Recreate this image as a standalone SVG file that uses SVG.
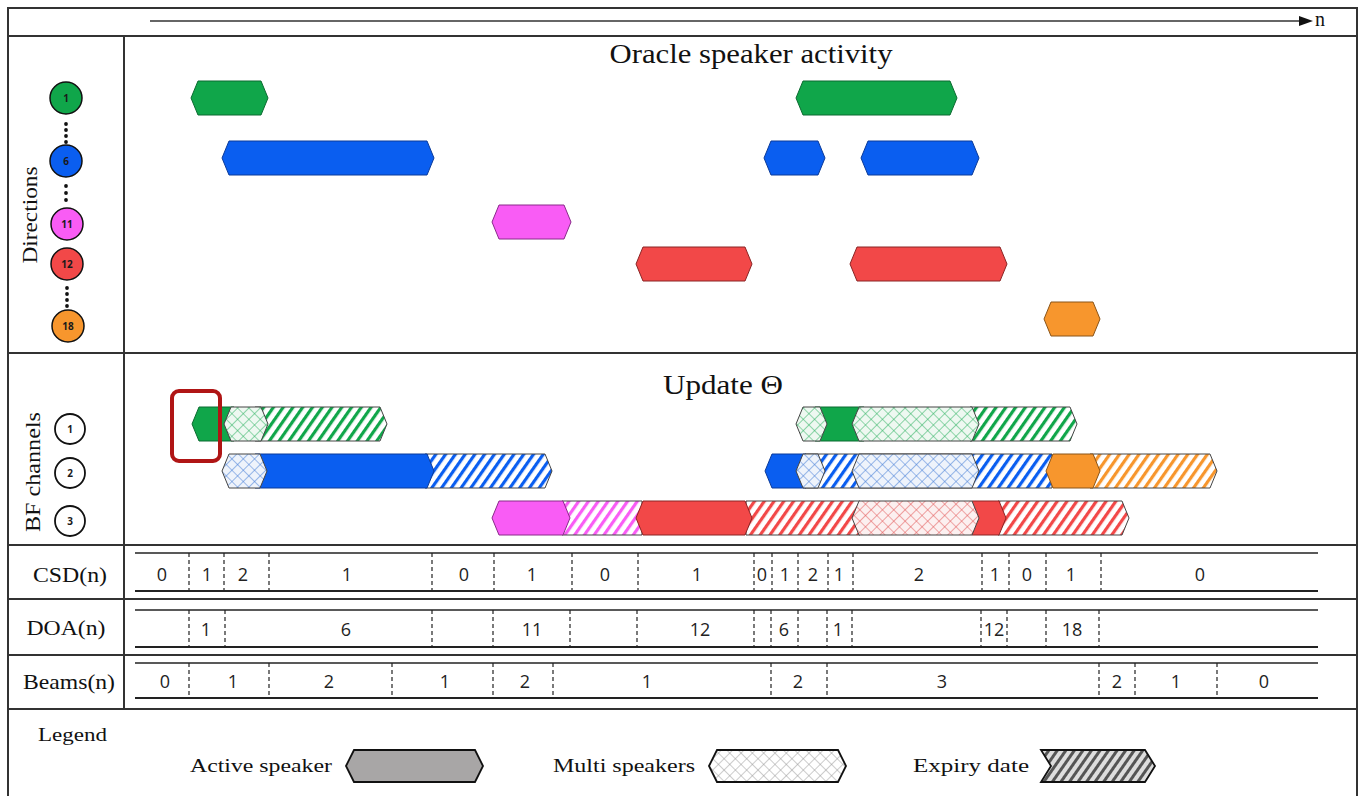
<svg xmlns="http://www.w3.org/2000/svg" width="1362" height="796" viewBox="0 0 1362 796">
<style>
.frame{fill:none;stroke:#333;stroke-width:2}
.sep{stroke:#333;stroke-width:2}
.serif{font-family:"Liberation Serif","DejaVu Serif",serif;fill:#111}
.num{font-family:"Open Sans","Liberation Sans",sans-serif;font-size:18px;fill:#222;text-anchor:middle}
.lbl{font-family:"Liberation Serif","DejaVu Serif",serif;font-size:21px;fill:#111;text-anchor:middle}
.tl-top{stroke:#222;stroke-width:1.3}
.tl-bot{stroke:#222;stroke-width:2}
.dash{stroke:#222;stroke-width:1.2;stroke-dasharray:4 3}
.ctext{font-family:"Open Sans","Liberation Sans",sans-serif;font-size:10px;font-weight:bold;fill:#1a1a1a;text-anchor:middle}
.dot{fill:#111}
.g{fill:#10a64a;stroke:#0b6b30;stroke-width:1}
.b{fill:#0a5ef0;stroke:#0a3a9a;stroke-width:1}
.m{fill:#f95cf5;stroke:#8a2a8a;stroke-width:1}
.r{fill:#f24848;stroke:#8a2424;stroke-width:1}
.o{fill:#f7962d;stroke:#8a5418;stroke-width:1}
.edge{stroke:#444;stroke-width:1}
</style>
<defs>
<pattern id="hg" width="8" height="8" patternUnits="userSpaceOnUse" patternTransform="rotate(35)"><rect width="8" height="8" fill="#fff"/><rect width="3.2" height="8" fill="#10a64a"/></pattern>
<pattern id="hb" width="8" height="8" patternUnits="userSpaceOnUse" patternTransform="rotate(35)"><rect width="8" height="8" fill="#fff"/><rect width="3.2" height="8" fill="#0a5ef0"/></pattern>
<pattern id="hm" width="8" height="8" patternUnits="userSpaceOnUse" patternTransform="rotate(35)"><rect width="8" height="8" fill="#fff"/><rect width="3.2" height="8" fill="#f95cf5"/></pattern>
<pattern id="hr" width="8" height="8" patternUnits="userSpaceOnUse" patternTransform="rotate(35)"><rect width="8" height="8" fill="#fff"/><rect width="3.2" height="8" fill="#f24848"/></pattern>
<pattern id="ho" width="8" height="8" patternUnits="userSpaceOnUse" patternTransform="rotate(35)"><rect width="8" height="8" fill="#fff"/><rect width="3.2" height="8" fill="#f7962d"/></pattern>
<pattern id="hk" width="7" height="7" patternUnits="userSpaceOnUse" patternTransform="rotate(35)"><rect width="7" height="7" fill="#ddd"/><rect width="3" height="7" fill="#555"/></pattern>
<pattern id="cg" width="8" height="8" patternUnits="userSpaceOnUse" patternTransform="rotate(45)"><rect width="8" height="8" fill="#eef8f1"/><path d="M0 0H8M0 0V8" stroke="#10a64a" stroke-opacity="0.85" stroke-width="1.1"/></pattern>
<pattern id="cb" width="8" height="8" patternUnits="userSpaceOnUse" patternTransform="rotate(45)"><rect width="8" height="8" fill="#eef3fb"/><path d="M0 0H8M0 0V8" stroke="#2a6ad0" stroke-opacity="0.85" stroke-width="1.1"/></pattern>
<pattern id="cr" width="8" height="8" patternUnits="userSpaceOnUse" patternTransform="rotate(45)"><rect width="8" height="8" fill="#fcf0f0"/><path d="M0 0H8M0 0V8" stroke="#e04848" stroke-opacity="0.9" stroke-width="1.1"/></pattern>
<pattern id="ck" width="8" height="8" patternUnits="userSpaceOnUse" patternTransform="rotate(45)"><rect width="8" height="8" fill="#fff"/><path d="M0 0H8M0 0V8" stroke="#999" stroke-width="1"/></pattern>
</defs>

<!-- frame and grid -->
<g id="frame">
<rect class="frame" x="8" y="8" width="1349" height="800"/>
<line class="sep" x1="8" y1="36" x2="1357" y2="36"/>
<line class="sep" x1="8" y1="353" x2="1357" y2="353"/>
<line class="sep" x1="8" y1="545" x2="1357" y2="545"/>
<line class="sep" x1="8" y1="599" x2="1357" y2="599"/>
<line class="sep" x1="8" y1="655" x2="1357" y2="655"/>
<line class="sep" x1="8" y1="709" x2="1357" y2="709"/>
<line class="sep" x1="124" y1="36" x2="124" y2="709"/>
</g>

<!-- time axis -->
<g id="axis">
<line x1="150" y1="21" x2="1301" y2="21" stroke="#333" stroke-width="1.5"/>
<polygon points="1299,16 1313,21 1299,26" fill="#111"/>
<text class="serif" x="1315" y="26" font-size="20">n</text>
</g>

<!-- Oracle section -->
<g id="oracle">
<text class="serif" x="751" y="63" font-size="27" text-anchor="middle" textLength="283" lengthAdjust="spacingAndGlyphs">Oracle speaker activity</text>
<text class="serif" font-size="21" text-anchor="middle" transform="translate(37,215) rotate(-90)" textLength="97" lengthAdjust="spacingAndGlyphs">Directions</text>
<g id="dir1"><circle cx="66" cy="98" r="16" fill="#10a64a" stroke="#111" stroke-width="1.5"/><text class="ctext" x="66" y="102">1</text></g>
<g id="dir6"><circle cx="66" cy="161" r="16" fill="#0a5ef0" stroke="#111" stroke-width="1.5"/><text class="ctext" x="66" y="165">6</text></g>
<g id="dir11"><circle cx="67" cy="224" r="16" fill="#f95cf5" stroke="#111" stroke-width="1.5"/><text class="ctext" x="67" y="228">11</text></g>
<g id="dir12"><circle cx="67" cy="264" r="16" fill="#f24848" stroke="#111" stroke-width="1.5"/><text class="ctext" x="67" y="268">12</text></g>
<g id="dir18"><circle cx="68" cy="326" r="16" fill="#f7962d" stroke="#111" stroke-width="1.5"/><text class="ctext" x="68" y="330">18</text></g>
<g id="dots">
<circle class="dot" cx="66" cy="124" r="1.9"/><circle class="dot" cx="66" cy="130" r="1.9"/><circle class="dot" cx="66" cy="136" r="1.9"/><circle class="dot" cx="66" cy="142" r="1.9"/>
<circle class="dot" cx="66" cy="186" r="1.9"/><circle class="dot" cx="66" cy="193" r="1.9"/><circle class="dot" cx="66" cy="200" r="1.9"/>
<circle class="dot" cx="67" cy="288" r="1.9"/><circle class="dot" cx="67" cy="294" r="1.9"/><circle class="dot" cx="67" cy="300" r="1.9"/><circle class="dot" cx="67" cy="306" r="1.9"/>
</g>
<g id="oracle-bars">
<polygon class="g" points="191,98 198,81 261,81 268,98 261,115 198,115"/>
<polygon class="g" points="796,98 803,81 950,81 957,98 950,115 803,115"/>
<polygon class="b" points="222,158 229,141 427,141 434,158 427,175 229,175"/>
<polygon class="b" points="764,158 771,141 818,141 825,158 818,175 771,175"/>
<polygon class="b" points="861,158 868,141 972,141 979,158 972,175 868,175"/>
<polygon class="m" points="492,222 499,205 564,205 571,222 564,239 499,239"/>
<polygon class="r" points="636,264 643,247 745,247 752,264 745,281 643,281"/>
<polygon class="r" points="850,264 857,247 1000,247 1007,264 1000,281 857,281"/>
<polygon class="o" points="1044,319 1051,302 1093,302 1100,319 1093,336 1051,336"/>
</g>
</g>

<!-- Update section -->
<g id="update">
<text class="serif" x="723" y="394" font-size="27" text-anchor="middle" textLength="120" lengthAdjust="spacingAndGlyphs">Update Θ</text>
<text class="serif" font-size="21" text-anchor="middle" transform="translate(40,472) rotate(-90)" textLength="120" lengthAdjust="spacingAndGlyphs">BF channels</text>
<g id="bf1"><circle cx="70" cy="429" r="15" fill="#fff" stroke="#111" stroke-width="1.8"/><text class="ctext" x="70" y="433">1</text></g>
<g id="bf2"><circle cx="70" cy="473" r="15" fill="#fff" stroke="#111" stroke-width="1.8"/><text class="ctext" x="70" y="477">2</text></g>
<g id="bf3"><circle cx="70" cy="521" r="15" fill="#fff" stroke="#111" stroke-width="1.8"/><text class="ctext" x="70" y="525">3</text></g>

<g id="row1">
<polygon class="edge" fill="url(#hg)" points="255,407 380,407 387,424 380,441 255,441"/>
<polygon class="g" points="192,424 199,407 234,407 234,441 199,441"/>
<polygon class="edge" fill="url(#cg)" points="224,424 231,407 261,407 268,424 261,441 231,441"/>
<polygon class="edge" fill="url(#hg)" points="970,407 1070,407 1077,424 1070,441 970,441"/>
<polygon class="g" points="815,407 864,407 864,441 815,441"/>
<polygon class="edge" fill="url(#cg)" points="796,424 803,407 820,407 827,424 820,441 803,441"/>
<polygon class="edge" fill="url(#cg)" points="852,424 859,407 972,407 979,424 972,441 859,441"/>
</g>
<g id="row2">
<polygon class="edge" fill="url(#hb)" points="425,454 545,454 552,471 545,488 425,488"/>
<polygon class="b" points="255,454 427,454 434,471 427,488 255,488"/>
<polygon class="edge" fill="url(#cb)" points="222,471 229,454 260,454 267,471 260,488 229,488"/>
<polygon class="edge" fill="url(#hb)" points="805,454 1052,454 1052,488 805,488"/>
<polygon class="b" points="765,471 772,454 806,454 806,488 772,488"/>
<polygon class="edge" fill="url(#cb)" points="796,471 803,454 818,454 825,471 818,488 803,488"/>
<polygon class="edge" fill="url(#cb)" points="852,471 859,454 972,454 979,471 972,488 859,488"/>
<polygon class="edge" fill="url(#ho)" points="1090,454 1210,454 1217,471 1210,488 1090,488"/>
<polygon class="o" points="1046,471 1053,454 1093,454 1100,471 1093,488 1053,488"/>
</g>
<g id="row3">
<polygon class="edge" fill="url(#hm)" points="562,501 642,501 642,535 562,535"/>
<polygon class="m" points="492,518 499,501 563,501 570,518 563,535 499,535"/>
<polygon class="edge" fill="url(#hr)" points="746,501 860,501 860,535 746,535"/>
<polygon class="r" points="636,518 643,501 745,501 752,518 745,535 643,535"/>
<polygon class="edge" fill="url(#hr)" points="998,501 1122,501 1129,518 1122,535 998,535"/>
<polygon class="r" points="972,501 999,501 1006,518 999,535 972,535"/>
<polygon class="edge" fill="url(#cr)" points="852,518 859,501 972,501 979,518 972,535 859,535"/>
</g>
<rect id="highlight" x="172" y="391" width="48" height="70" rx="7" fill="none" stroke="#b01515" stroke-width="4"/>
</g>

<!-- CSD row -->
<g id="csd">
<text class="lbl" x="70" y="582" textLength="74" lengthAdjust="spacingAndGlyphs">CSD(n)</text>
<line class="tl-top" x1="135" y1="553" x2="1318" y2="553"/>
<line class="tl-bot" x1="135" y1="591" x2="1318" y2="591"/>
<g>
<line class="dash" x1="189" y1="553" x2="189" y2="591"/><line class="dash" x1="224" y1="553" x2="224" y2="591"/><line class="dash" x1="269" y1="553" x2="269" y2="591"/><line class="dash" x1="432" y1="553" x2="432" y2="591"/><line class="dash" x1="494" y1="553" x2="494" y2="591"/><line class="dash" x1="572" y1="553" x2="572" y2="591"/><line class="dash" x1="638" y1="553" x2="638" y2="591"/><line class="dash" x1="754" y1="553" x2="754" y2="591"/><line class="dash" x1="772" y1="553" x2="772" y2="591"/><line class="dash" x1="798" y1="553" x2="798" y2="591"/><line class="dash" x1="828" y1="553" x2="828" y2="591"/><line class="dash" x1="853" y1="553" x2="853" y2="591"/><line class="dash" x1="982" y1="553" x2="982" y2="591"/><line class="dash" x1="1009" y1="553" x2="1009" y2="591"/><line class="dash" x1="1046" y1="553" x2="1046" y2="591"/><line class="dash" x1="1101" y1="553" x2="1101" y2="591"/>
</g>
<g>
<text class="num" x="162" y="581">0</text><text class="num" x="207" y="581">1</text><text class="num" x="243" y="581">2</text><text class="num" x="347" y="581">1</text><text class="num" x="464" y="581">0</text><text class="num" x="532" y="581">1</text><text class="num" x="605" y="581">0</text><text class="num" x="697" y="581">1</text><text class="num" x="762" y="581">0</text><text class="num" x="785" y="581">1</text><text class="num" x="813" y="581">2</text><text class="num" x="839" y="581">1</text><text class="num" x="919" y="581">2</text><text class="num" x="995" y="581">1</text><text class="num" x="1027" y="581">0</text><text class="num" x="1071" y="581">1</text><text class="num" x="1200" y="581">0</text>
</g>
</g>

<!-- DOA row -->
<g id="doa">
<text class="lbl" x="66" y="635" textLength="79" lengthAdjust="spacingAndGlyphs">DOA(n)</text>
<line class="tl-top" x1="135" y1="610" x2="1318" y2="610"/>
<line class="tl-bot" x1="135" y1="647" x2="1318" y2="647"/>
<g>
<line class="dash" x1="189" y1="610" x2="189" y2="647"/><line class="dash" x1="225" y1="610" x2="225" y2="647"/><line class="dash" x1="432" y1="610" x2="432" y2="647"/><line class="dash" x1="493" y1="610" x2="493" y2="647"/><line class="dash" x1="570" y1="610" x2="570" y2="647"/><line class="dash" x1="637" y1="610" x2="637" y2="647"/><line class="dash" x1="754" y1="610" x2="754" y2="647"/><line class="dash" x1="771" y1="610" x2="771" y2="647"/><line class="dash" x1="798" y1="610" x2="798" y2="647"/><line class="dash" x1="827" y1="610" x2="827" y2="647"/><line class="dash" x1="852" y1="610" x2="852" y2="647"/><line class="dash" x1="981" y1="610" x2="981" y2="647"/><line class="dash" x1="1007" y1="610" x2="1007" y2="647"/><line class="dash" x1="1046" y1="610" x2="1046" y2="647"/><line class="dash" x1="1099" y1="610" x2="1099" y2="647"/>
</g>
<g>
<text class="num" x="206" y="636">1</text><text class="num" x="346" y="636">6</text><text class="num" x="532" y="636">11</text><text class="num" x="700" y="636">12</text><text class="num" x="784" y="636">6</text><text class="num" x="838" y="636">1</text><text class="num" x="994" y="636">12</text><text class="num" x="1072" y="636">18</text>
</g>
</g>

<!-- Beams row -->
<g id="beams">
<text class="lbl" x="69" y="689" textLength="92" lengthAdjust="spacingAndGlyphs">Beams(n)</text>
<line class="tl-top" x1="135" y1="663" x2="1318" y2="663"/>
<line class="tl-bot" x1="135" y1="698" x2="1318" y2="698"/>
<g>
<line class="dash" x1="189" y1="663" x2="189" y2="698"/><line class="dash" x1="269" y1="663" x2="269" y2="698"/><line class="dash" x1="392" y1="663" x2="392" y2="698"/><line class="dash" x1="493" y1="663" x2="493" y2="698"/><line class="dash" x1="553" y1="663" x2="553" y2="698"/><line class="dash" x1="771" y1="663" x2="771" y2="698"/><line class="dash" x1="827" y1="663" x2="827" y2="698"/><line class="dash" x1="1099" y1="663" x2="1099" y2="698"/><line class="dash" x1="1135" y1="663" x2="1135" y2="698"/><line class="dash" x1="1217" y1="663" x2="1217" y2="698"/>
</g>
<g>
<text class="num" x="165" y="688">0</text><text class="num" x="233" y="688">1</text><text class="num" x="329" y="688">2</text><text class="num" x="445" y="688">1</text><text class="num" x="525" y="688">2</text><text class="num" x="647" y="688">1</text><text class="num" x="798" y="688">2</text><text class="num" x="942" y="688">3</text><text class="num" x="1117" y="688">2</text><text class="num" x="1176" y="688">1</text><text class="num" x="1264" y="688">0</text>
</g>
</g>

<!-- Legend -->
<g id="legend">
<text class="serif" x="38" y="741" font-size="19" textLength="69" lengthAdjust="spacingAndGlyphs">Legend</text>
<g id="leg-active">
<text class="serif" x="190" y="772" font-size="19" textLength="142" lengthAdjust="spacingAndGlyphs">Active speaker</text>
<polygon points="346,766 354,750 475,750 483,766 475,782 354,782" fill="#a8a6a6" stroke="#111" stroke-width="1.8"/>
</g>
<g id="leg-multi">
<text class="serif" x="553" y="772" font-size="19" textLength="142" lengthAdjust="spacingAndGlyphs">Multi speakers</text>
<polygon points="709,766 717,750 838,750 846,766 838,782 717,782" fill="url(#ck)" stroke="#111" stroke-width="1.8"/>
</g>
<g id="leg-expiry">
<text class="serif" x="913" y="772" font-size="19" textLength="116" lengthAdjust="spacingAndGlyphs">Expiry date</text>
<polygon points="1041,750 1145,750 1155,766 1145,782 1041,782 1051,766" fill="url(#hk)" stroke="#111" stroke-width="1.8"/>
</g>
</g>
</svg>
